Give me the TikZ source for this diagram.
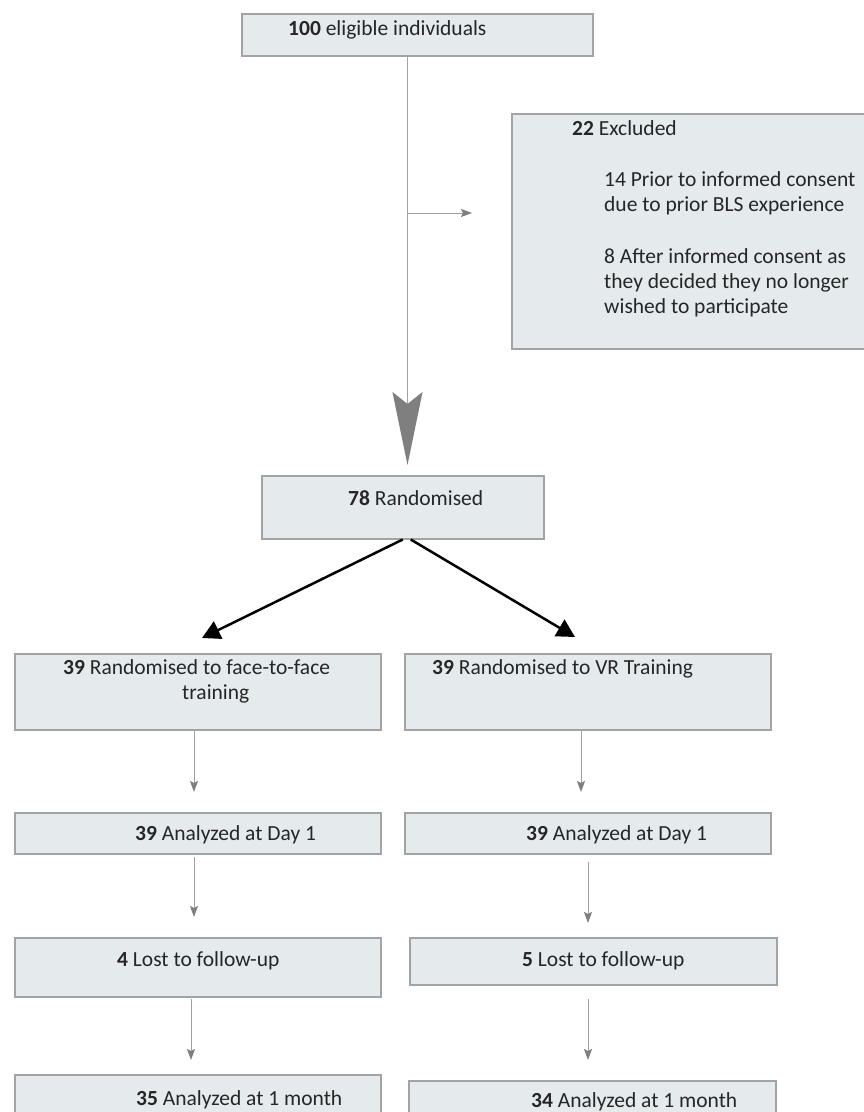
\documentclass[tikz,border=0pt]{standalone}
\usepackage{fontspec}
\setmainfont{Carlito}
\usetikzlibrary{arrows.meta}
\definecolor{boxfill}{HTML}{E5EAEC}
\definecolor{boxline}{HTML}{A3A3A3}
\definecolor{conn}{HTML}{A0A0A0}
\definecolor{headgray}{HTML}{7F7F7F}
\definecolor{txtc}{HTML}{262626}
\begin{document}
\begin{tikzpicture}[x=1pt,y=-1pt,
  box/.style={draw=boxline, fill=boxfill, line width=1.5pt, rectangle, anchor=north west, inner sep=0pt},
  txt/.style={anchor=base west, inner sep=0pt, text=txtc, font=\fontsize{21.5}{25}\selectfont},
  garrow/.style={draw=conn, line width=1pt, -{Stealth[length=11pt,width=8pt,inset=2pt,color=headgray]}},
  barrow/.style={draw=black, line width=2.5pt, -{Triangle[length=18pt,width=19pt]}}]
\useasboundingbox (0,0) rectangle (863,1112);
\fill[white] (0,0) rectangle (863,1112);

% boxes
\node[box, minimum width=351pt, minimum height=42pt] (top) at (241,13) {};
\node[box, minimum width=360pt, minimum height=235pt] (excl) at (511,113) {};
\node[box, minimum width=282pt, minimum height=63pt] (rand) at (261,475) {};
\node[box, minimum width=366pt, minimum height=76pt] (ffbox) at (14,653) {};
\node[box, minimum width=366pt, minimum height=76pt] (vrbox) at (404,653) {};
\node[box, minimum width=366pt, minimum height=41pt] (d1L) at (14,812) {};
\node[box, minimum width=366pt, minimum height=41pt] (d1R) at (404,812) {};
\node[box, minimum width=366pt, minimum height=59pt] (lostL) at (14,937) {};
\node[box, minimum width=367pt, minimum height=47pt] (lostR) at (409,937) {};
\node[box, minimum width=366pt, minimum height=45pt] (finL) at (14,1074) {};
\node[box, minimum width=367pt, minimum height=40pt] (finR) at (408,1080) {};

% texts
\node[txt] (ttop) at (288,35) {\textbf{100} eligible individuals};
\node[txt] (texh) at (572,135) {\textbf{22} Excluded};
\node[txt] (texb) at (604,186) {\vtop{\hbox{14 Prior to informed consent}\hbox{due to prior BLS experience}\vskip27pt\hbox{8 After informed consent as}\hbox{they decided they no longer}\hbox{wished to participate}}};
\node[txt] (trand) at (348,505) {\textbf{78} Randomised};
\node[txt] (tff) at (63,674) {\vtop{\hbox{\textbf{39} Randomised to face-to-face}\hbox{\hskip119pt training}}};
\node[txt] (tvr) at (432,674) {\textbf{39} Randomised to VR Training};
\node[txt] (td1L) at (135,840) {\textbf{39} Analyzed at Day 1};
\node[txt] (td1R) at (526,840) {\textbf{39} Analyzed at Day 1};
\node[txt] (tlostL) at (117,966) {\textbf{4} Lost to follow-up};
\node[txt] (tlostR) at (522,966) {\textbf{5} Lost to follow-up};
\node[txt] (tfinL) at (136,1105) {\textbf{35} Analyzed at 1 month};
\node[txt] (tfinR) at (531,1107) {\textbf{34} Analyzed at 1 month};

% big gray arrow and exclusion branch
\coordinate (bigtip) at (407.5,465);
\draw[draw=boxline, line width=1.5pt, -{Stealth[length=73pt,width=30pt,inset=12pt,color=headgray]}] (top.south -| bigtip) -- (bigtip);
\coordinate (exend) at (472,213);
\draw[garrow] (exend -| bigtip) -- (exend);

% black split arrows
\coordinate (lt) at (202,638);
\coordinate (rt) at (575,637);
\draw[barrow] (rand.south) -- (lt);
\draw[barrow] ([xshift=8pt]rand.south) -- (rt);

% gray column arrows
\coordinate (e1) at (194,792);
\coordinate (e2) at (581,792);
\coordinate (e3) at (194,917);
\coordinate (e4) at (588,923);
\coordinate (e5) at (191,1060);
\coordinate (e6) at (588,1060);
\draw[garrow] (ffbox.south -| e1) -- (e1);
\draw[garrow] (vrbox.south -| e2) -- (e2);
\draw[garrow, shorten <=2pt] (d1L.south -| e3) -- (e3);
\draw[garrow, shorten <=7pt] (d1R.south -| e4) -- (e4);
\draw[garrow, shorten <=1pt] (lostL.south -| e5) -- (e5);
\draw[garrow, shorten <=13pt] (lostR.south -| e6) -- (e6);
\end{tikzpicture}
\end{document}
